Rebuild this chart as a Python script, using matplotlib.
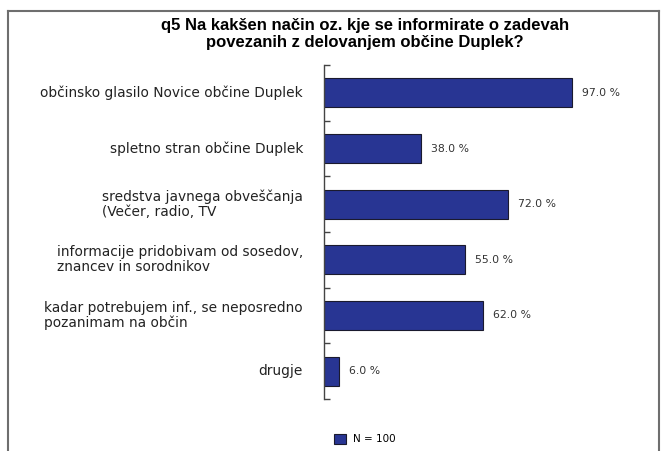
import matplotlib.pyplot as plt
from matplotlib.patches import Patch
from matplotlib.lines import Line2D

# podatki
categories = [
    "občinsko glasilo Novice občine Duplek",
    "spletno stran občine Duplek",
    "sredstva javnega obveščanja\n(Večer, radio, TV",
    "informacije pridobivam od sosedov,\nznancev in sorodnikov",
    "kadar potrebujem inf., se neposredno\npozanimam na občin",
    "drugje",
]
values = [97.0, 38.0, 72.0, 55.0, 62.0, 6.0]
title = "q5 Na kakšen način oz. kje se informirate o zadevah\npovezanih z delovanjem občine Duplek?"
legend_label = "N = 100"

plt.rcParams['font.family'] = ['DejaVu Sans']

W, H = 667, 451
fig = plt.figure(figsize=(W / 100, H / 100), dpi=100)

# okvir slike (spodaj odrezan)
frame_col = "#6e6e6e"
fig.add_artist(Line2D([8 / W, 8 / W], [0, 1 - 11 / H], color=frame_col, lw=1.5))
fig.add_artist(Line2D([8 / W, 659 / W], [1 - 11 / H, 1 - 11 / H], color=frame_col, lw=1.5))
fig.add_artist(Line2D([659 / W, 659 / W], [0, 1 - 11 / H], color=frame_col, lw=1.5))

fig.text(365 / W, 1 - 34 / H, title, ha='center', va='center', fontsize=12,
         fontweight='bold', linespacing=1.15, family=['Liberation Sans'])

ax = fig.add_axes([324 / W, 1 - 399 / H, (580 - 324) / W, (399 - 65) / H])
bar_col = "#283593"
ypos = list(range(len(categories)))
ax.barh(ypos, values, height=0.52, color=bar_col, edgecolor="#1a1a2e", linewidth=0.8)
ax.set_xlim(0, 100)
ax.set_ylim(len(categories) - 0.5, -0.5)

for s in ['top', 'right', 'bottom']:
    ax.spines[s].set_visible(False)
ax.spines['left'].set_color("#444444")
ax.spines['left'].set_linewidth(1.0)
ax.set_xticks([])
ax.set_yticks([i - 0.5 for i in range(len(categories) + 1)])
ax.set_yticklabels([])
ax.tick_params(axis='y', direction='in', length=4, color="#444444", width=1.0)

for i, (lab, v) in enumerate(zip(categories, values)):
    ax.annotate(lab, xy=(0, i), xytext=(-21, 0), textcoords='offset pixels',
                ha='right', va='center', multialignment='left', fontsize=9.9,
                color="#222222", linespacing=1.1)
    ax.annotate(f"{v:.1f} %", xy=(v, i), xytext=(10, 0), textcoords='offset pixels',
                ha='left', va='center', fontsize=7.8, color="#333333")

handle = Patch(facecolor=bar_col, edgecolor="#1a1a2e", linewidth=0.8)
fig.legend([handle], [legend_label], loc='center left',
           bbox_to_anchor=(325 / W, 1 - 439 / H), frameon=False, fontsize=7.5,
           handlelength=1.15, handleheight=1.15, handletextpad=0.6,
           borderpad=0.4)

fig.savefig("out.png", dpi=100, facecolor='white')
